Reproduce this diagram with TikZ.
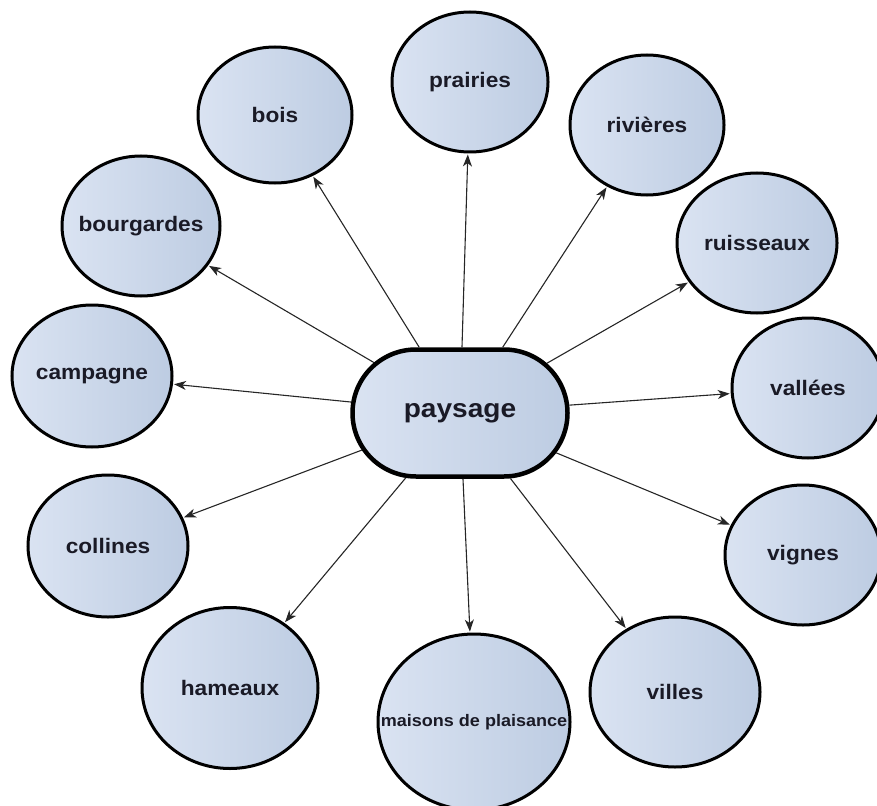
\documentclass[tikz,border=0pt]{standalone}
\usepackage{fontspec}
\newfontfamily\lab{Liberation Sans}[FakeStretch=1.08]
\usetikzlibrary{shapes.geometric,shapes.misc,arrows.meta}
\definecolor{bl}{HTML}{DAE3F2}
\definecolor{bd}{HTML}{BDCCE2}
\definecolor{ink}{HTML}{1A1A26}
\begin{document}
\begin{tikzpicture}[x=1pt,y=-1pt,
  leaf/.style={ellipse, draw=black, line width=3pt, left color=bl, right color=bd, text=ink, inner sep=0pt, font=\lab\bfseries\fontsize{21}{24}\selectfont},
  hub/.style={rounded rectangle, draw=black, line width=4.5pt, left color=bl, right color=bd, text=ink, minimum width=215pt, minimum height=127pt, inner sep=0pt, font=\lab\bfseries\fontsize{26}{30}\selectfont},
  conn/.style={draw=black!85, line width=1.1pt, -{Stealth[length=12pt,width=9pt,inset=3.5pt]}, shorten >=1pt}
]
\useasboundingbox (0,0) rectangle (877,805);
\node[hub] (p) at (460,413) {paysage};
\node[leaf, minimum width=156pt, minimum height=140pt] (prairies) at (470,82) {\makebox[0pt]{prairies}};
\node[leaf, minimum width=154pt, minimum height=136pt] (bois) at (275,115) {\makebox[0pt]{bois}};
\node[leaf, minimum width=154pt, minimum height=140pt] (rivieres) at (647,125) {\makebox[0pt]{rivières}};
\node[leaf, minimum width=158pt, minimum height=140pt] (bourgardes) at (141,226) {\makebox[0pt]{bourgardes}};
\node[leaf, minimum width=160pt, minimum height=140pt] (ruisseaux) at (757,243) {\makebox[0pt]{ruisseaux}};
\node[leaf, minimum width=160pt, minimum height=142pt] (campagne) at (92,376) {\makebox[0pt]{campagne}};
\node[leaf, minimum width=152pt, minimum height=140pt] (vallees) at (808,388) {\makebox[0pt]{vallées}};
\node[leaf, minimum width=160pt, minimum height=142pt] (collines) at (108,546) {\makebox[0pt]{collines}};
\node[leaf, minimum width=156pt, minimum height=140pt] (vignes) at (803,555) {\makebox[0pt]{vignes}};
\node[leaf, minimum width=176pt, minimum height=161pt] (hameaux) at (230,688) {\makebox[0pt]{hameaux}};
\node[leaf, minimum width=170pt, minimum height=150pt] (villes) at (675,692) {\makebox[0pt]{villes}};
\node[leaf, minimum width=192pt, minimum height=176pt, font=\lab\bfseries\fontsize{16.7}{19}\selectfont] (maisons) at (474,722) {\makebox[0pt]{maisons de plaisance}};
\foreach \t in {prairies,bois,rivieres,bourgardes,ruisseaux,campagne,vallees,collines,vignes,hameaux,villes,maisons}
  \draw[conn] (p) -- (\t);
\end{tikzpicture}
\end{document}
